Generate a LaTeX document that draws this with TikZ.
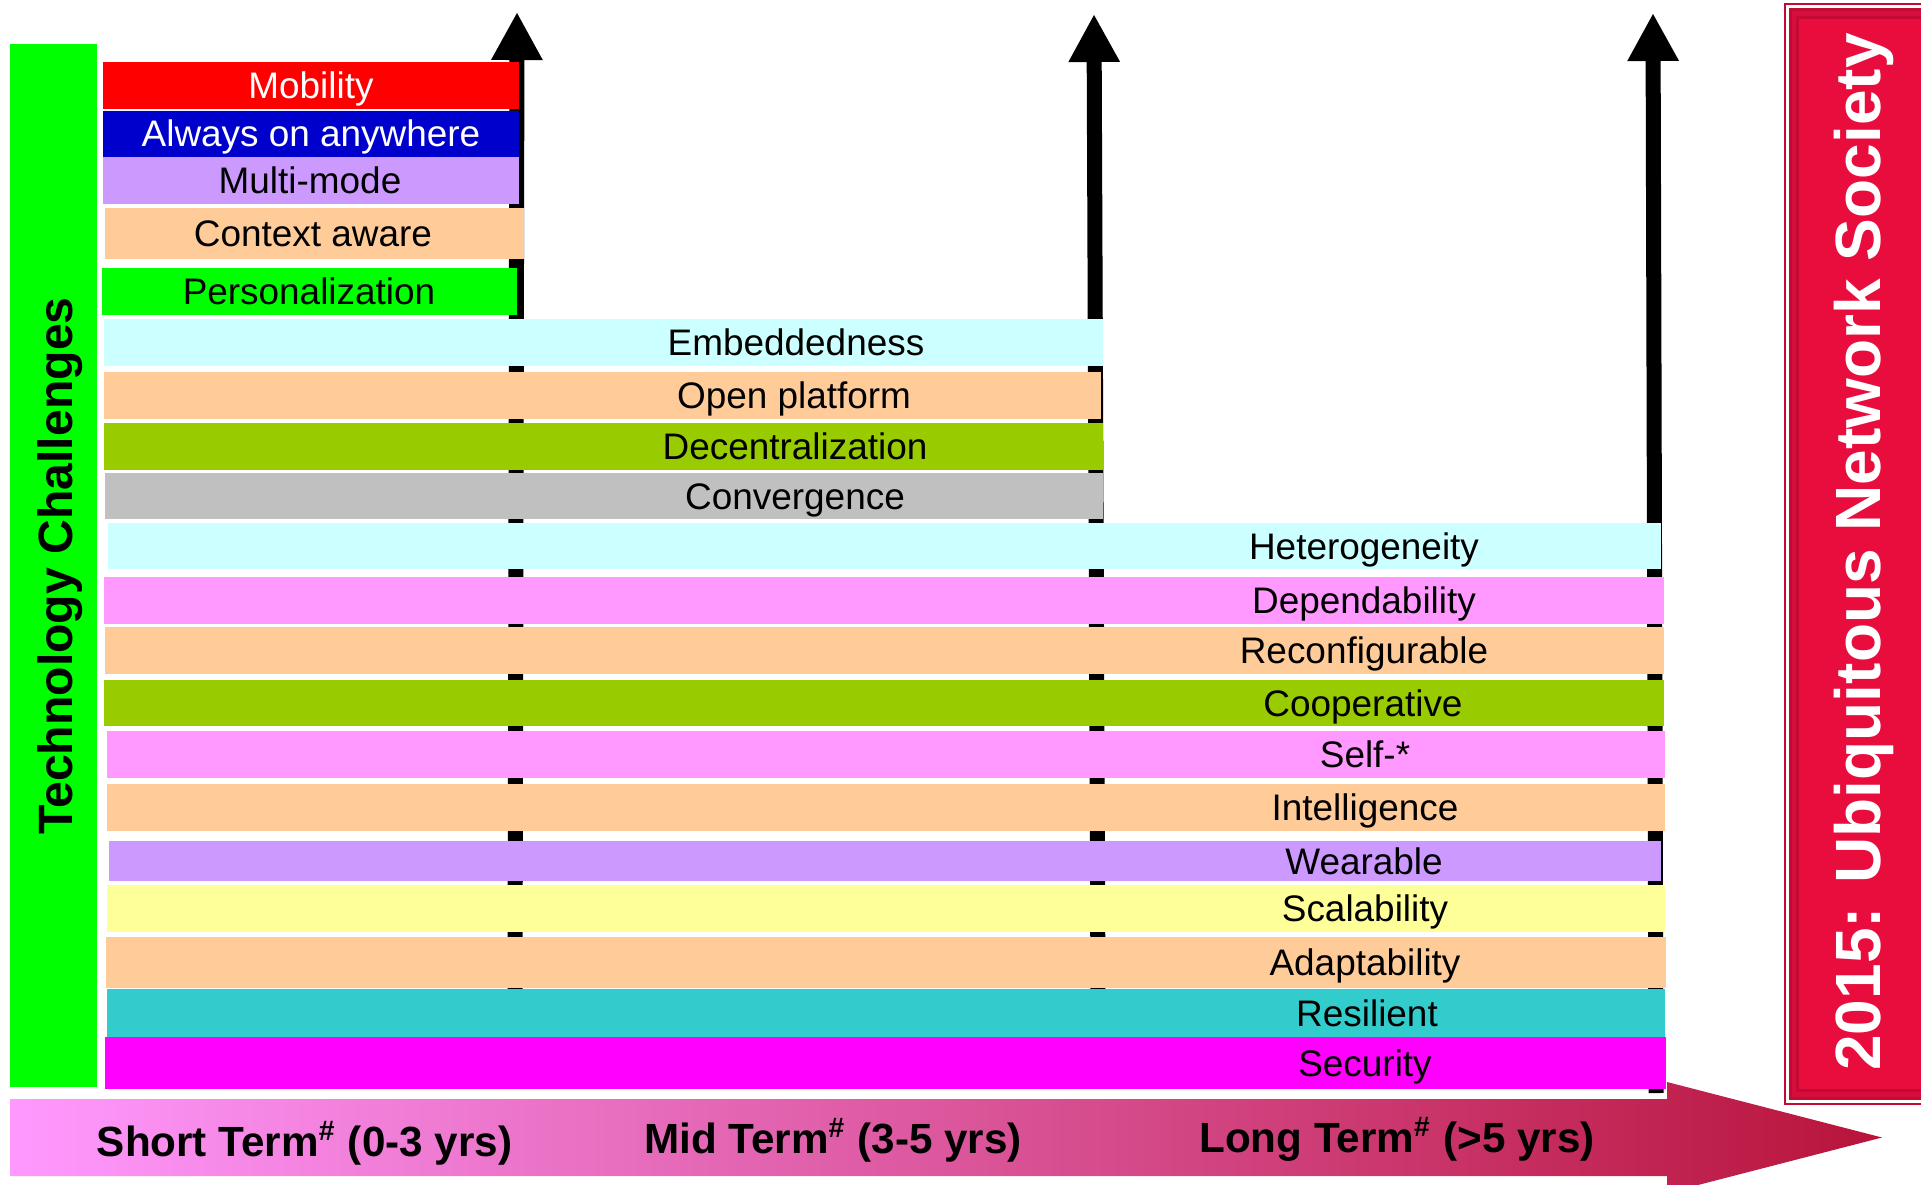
\documentclass[tikz,border=0pt]{standalone}
\usepackage{fontspec}
\setmainfont{Liberation Sans}
\usetikzlibrary{arrows.meta}

\definecolor{peach}{HTML}{FFCC99}
\definecolor{lavender}{HTML}{CC99FF}
\definecolor{icecyan}{HTML}{CCFFFF}
\definecolor{leafgreen}{HTML}{99CC00}
\definecolor{greybar}{HTML}{C0C0C0}
\definecolor{pinkbar}{HTML}{FF99FF}
\definecolor{lemon}{HTML}{FFFF99}
\definecolor{tealbar}{HTML}{33CCCC}
\definecolor{magbar}{HTML}{FF00FF}
\definecolor{bluebar}{HTML}{0000CC}
\definecolor{limebar}{HTML}{00FF00}
\definecolor{crimson}{HTML}{E80D3C}
\definecolor{crimsondark}{HTML}{C40A32}
\definecolor{crimsonmid}{HTML}{D60E3C}
\definecolor{termpink}{HTML}{FF99FF}
\definecolor{termmid}{RGB}{225,115,190}
\definecolor{termred}{RGB}{184,20,58}

\tikzset{
  lbl/.style={anchor=base, inner sep=0pt, font=\fontsize{10.5}{12}\selectfont},
  term/.style={anchor=base, inner sep=0pt, font=\fontsize{12}{14}\selectfont\bfseries},
  shaft/.style={line width=0.15cm, -{Triangle[width=0.48cm,length=0.48cm]}},
}

\begin{document}
\begin{tikzpicture}[x=0.01cm, y=-0.01cm]
\useasboundingbox (0,0) rectangle (1921,1185);
\clip (0,0) rectangle (1921,1185);

% milestone arrows, behind the bars
\coordinate (s1b) at (515,1000);
\coordinate (s1t) at (517,12);
\coordinate (s2b) at (1098,1000);
\coordinate (s2t) at (1094,14);
\coordinate (s3b) at (1656,1093);
\coordinate (s3t) at (1653,13);
\draw[shaft] (s1b) -- (s1t);
\draw[shaft] (s2b) -- (s2t);
\draw[shaft] (s3b) -- (s3t);

% side title
\fill[limebar] (10,44) rectangle (97,1087);
\node[rotate=90, anchor=base, inner sep=0pt, font=\fontsize{13.7}{16}\selectfont\bfseries] at (72,566) (tc) {Technology Challenges};

% short term
\fill[red] (103,62) rectangle (519,109);
\node[lbl, white] at (311,98.5) (mob) {Mobility};
\fill[bluebar] (103,111) rectangle (519,157);
\node[lbl, white] at (311,147) (aoa) {Always on anywhere};
\fill[lavender] (103,157) rectangle (519,204);
\node[lbl] at (310,193.5) (mm) {Multi-mode};
\fill[peach] (105,208) rectangle (524,259);
\node[lbl] at (313,246.5) (ca) {Context aware};
\fill[limebar] (102,268) rectangle (517,315);
\node[lbl] at (309,304.5) (pers) {Personalization};

% mid term
\fill[icecyan] (104,319) rectangle (1103,366);
\node[lbl] at (796,355.5) (emb) {Embeddedness};
\fill[peach] (104,372) rectangle (1101,419);
\node[lbl] at (794,408.5) (op) {Open platform};
\fill[leafgreen] (104,423) rectangle (1103,470);
\node[lbl] at (795,459.5) (dec) {Decentralization};
\fill[greybar] (105,473) rectangle (1103,519);
\node[lbl] at (795,509) (conv) {Convergence};

% long term
\fill[icecyan] (108,523) rectangle (1661,569);
\node[lbl] at (1364,559) (het) {Heterogeneity};
\fill[pinkbar] (104,577) rectangle (1664,624);
\node[lbl] at (1364,613.5) (dep) {Dependability};
\fill[peach] (105,627) rectangle (1664,674);
\node[lbl] at (1364,663.5) (rec) {Reconfigurable};
\fill[leafgreen] (104,680) rectangle (1664,726);
\node[lbl] at (1363,716) (coop) {Cooperative};
\fill[pinkbar] (107,731) rectangle (1665,778);
\node[lbl] at (1365,767.5) (self) {Self-*};
\fill[peach] (107,784) rectangle (1665,831);
\node[lbl] at (1365,820.5) (intl) {Intelligence};
\fill[lavender] (109,841) rectangle (1661,881);
\node[lbl] at (1364,874) (wear) {Wearable};
\fill[lemon] (107,885) rectangle (1665,932);
\node[lbl] at (1365,921.5) (scal) {Scalability};
\fill[peach] (106,937) rectangle (1666,988);
\node[lbl] at (1365,975.5) (adap) {Adaptability};
\fill[tealbar] (107,989) rectangle (1665,1037);
\node[lbl] at (1367,1026) (res) {Resilient};
\fill[magbar] (105,1037) rectangle (1666,1089);
\node[lbl] at (1365,1076) (sec) {Security};

% time line
\shade[left color=termpink, middle color=termmid, right color=termred]
  (10,1099) -- (1667,1099) -- (1667,1082) -- (1882,1137.5) -- (1667,1193)
  -- (1667,1176) -- (10,1176) -- cycle;
\node[term] at (304.5,1156) (st) {Short Term\textsuperscript{\#} (0-3 yrs)};
\node[term] at (833,1153) (mt) {Mid Term\textsuperscript{\#} (3-5 yrs)};
\node[term] at (1397,1152) (lt) {Long Term\textsuperscript{\#} (>5 yrs)};

% goal box
\draw[crimsondark, line width=0.02cm] (1785,4) rectangle (1930,1104);
\fill[crimsondark] (1789,8) rectangle (1930,1100);
\fill[crimsonmid] (1792,11) rectangle (1930,1097);
\fill[crimsondark] (1796,16) rectangle (1930,1092);
\fill[crimson] (1799,19) rectangle (1930,1089);
\node[rotate=90, anchor=base, inner sep=0pt, white, font=\fontsize{18.2}{20}\selectfont\bfseries] at (1880,552) (uns) {2015: Ubiquitous Network Society};
\end{tikzpicture}
\end{document}
